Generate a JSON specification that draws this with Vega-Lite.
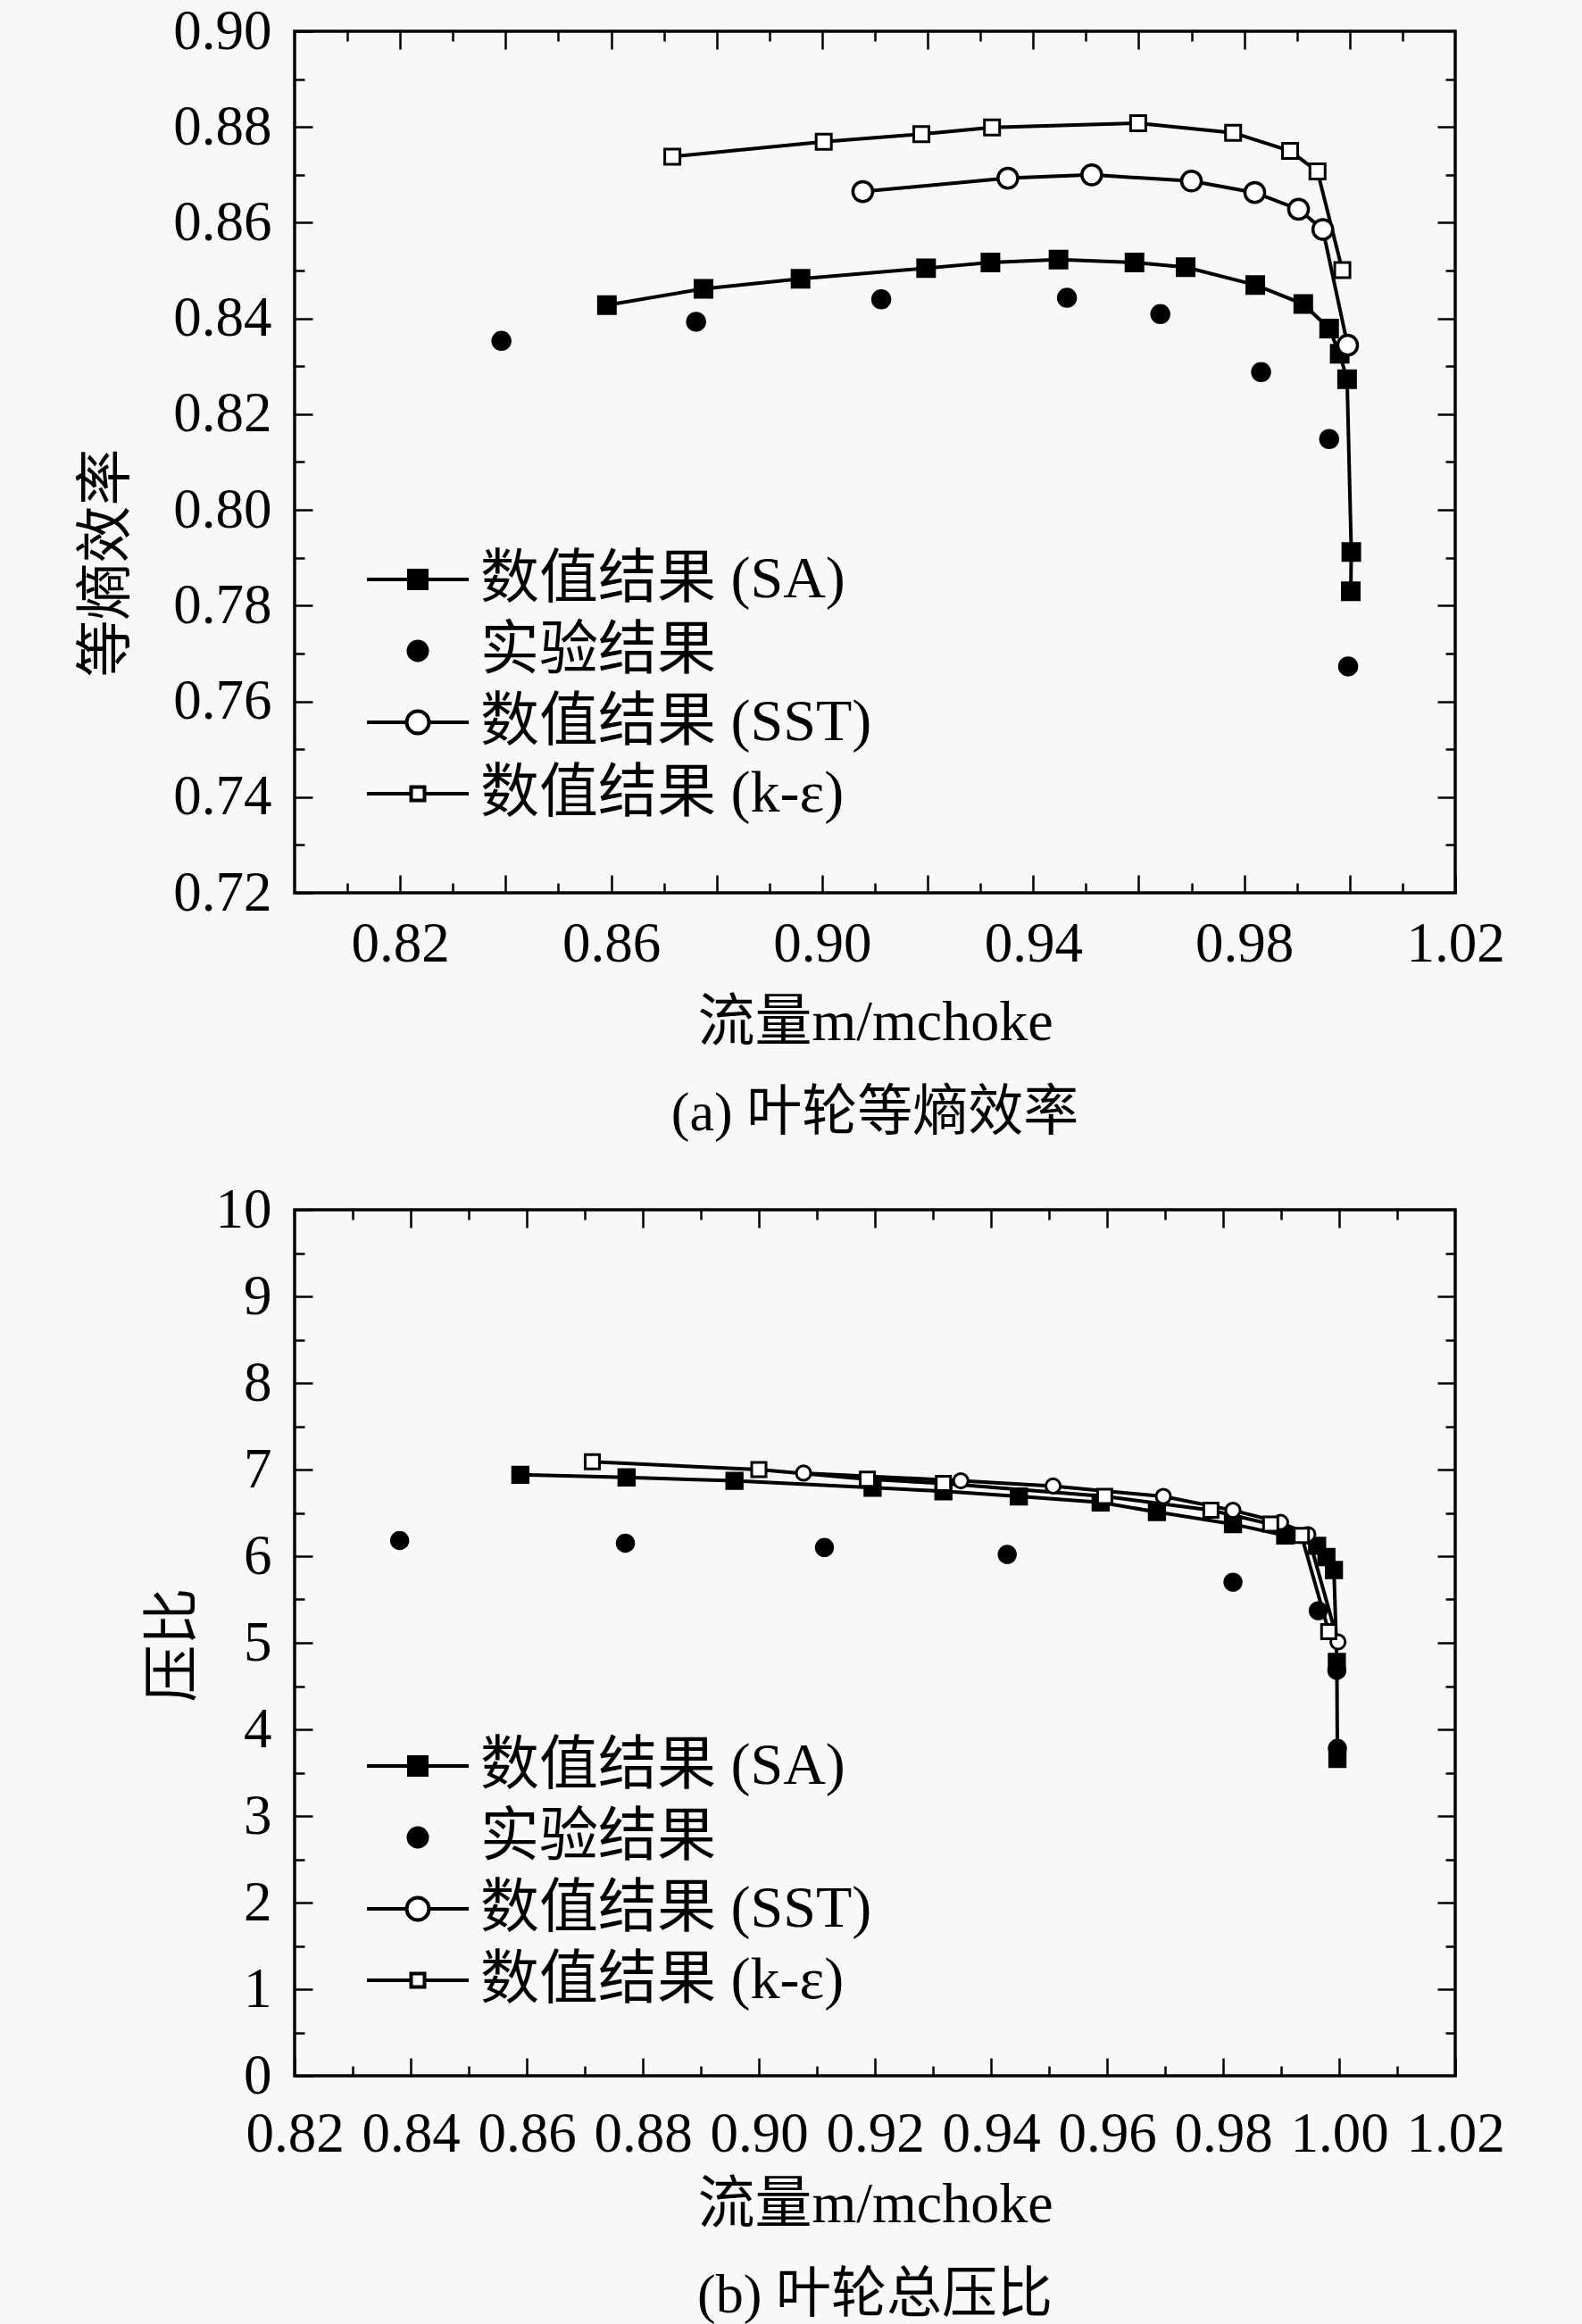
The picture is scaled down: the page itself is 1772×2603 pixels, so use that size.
{
  "$schema": "https://vega.github.io/schema/vega-lite/v6.json",
  "background": "#f8f8f8",
  "padding": {"left": 85, "top": 2, "right": 85, "bottom": 10},
  "config": {
    "font": "Liberation Serif, Noto Sans CJK SC, serif",
    "view": {"stroke": "black", "strokeWidth": 3.5},
    "axis": {
      "grid": false,
      "domain": false,
      "labelFontSize": 63,
      "labelColor": "black",
      "labelOverlap": false,
      "labelFlush": false,
      "labelPadding": 46,
      "tickColor": "black",
      "tickWidth": 2.5,
      "titleFontSize": 64,
      "titleFontWeight": "normal",
      "titleColor": "black"
    },
    "legend": {
      "orient": "none",
      "title": null,
      "padding": 0,
      "labelFontSize": 66,
      "labelColor": "black",
      "labelLimit": 0,
      "symbolSize": 400,
      "symbolStrokeWidth": 4,
      "symbolStrokeColor": "black",
      "symbolOpacity": 1,
      "symbolOffset": 56,
      "labelOffset": 37,
      "rowPadding": 14
    },
    "title": {"fontSize": 62, "fontWeight": "normal", "color": "black"}
  },
  "datasets": {
    "eff": [
      {"series": "数值结果 (SA)", "i": 1, "x": 0.8592, "y": 0.8428},
      {"series": "数值结果 (SA)", "i": 2, "x": 0.8775, "y": 0.8462},
      {"series": "数值结果 (SA)", "i": 3, "x": 0.8959, "y": 0.8483},
      {"series": "数值结果 (SA)", "i": 4, "x": 0.9197, "y": 0.8505},
      {"series": "数值结果 (SA)", "i": 5, "x": 0.9319, "y": 0.8517},
      {"series": "数值结果 (SA)", "i": 6, "x": 0.9448, "y": 0.8523},
      {"series": "数值结果 (SA)", "i": 7, "x": 0.9592, "y": 0.8517},
      {"series": "数值结果 (SA)", "i": 8, "x": 0.9689, "y": 0.8507},
      {"series": "数值结果 (SA)", "i": 9, "x": 0.9821, "y": 0.847},
      {"series": "数值结果 (SA)", "i": 10, "x": 0.9912, "y": 0.843},
      {"series": "数值结果 (SA)", "i": 11, "x": 0.9961, "y": 0.8379},
      {"series": "数值结果 (SA)", "i": 12, "x": 0.9981, "y": 0.8326},
      {"series": "数值结果 (SA)", "i": 13, "x": 0.9995, "y": 0.8273},
      {"series": "数值结果 (SA)", "i": 14, "x": 1.0003, "y": 0.7912},
      {"series": "数值结果 (SA)", "i": 15, "x": 1.0002, "y": 0.783},
      {"series": "实验结果", "i": 1, "x": 0.8392, "y": 0.8353},
      {"series": "实验结果", "i": 2, "x": 0.8761, "y": 0.8393},
      {"series": "实验结果", "i": 3, "x": 0.9112, "y": 0.844},
      {"series": "实验结果", "i": 4, "x": 0.9464, "y": 0.8443},
      {"series": "实验结果", "i": 5, "x": 0.9641, "y": 0.8409},
      {"series": "实验结果", "i": 6, "x": 0.9832, "y": 0.8288},
      {"series": "实验结果", "i": 7, "x": 0.9961, "y": 0.8148},
      {"series": "实验结果", "i": 8, "x": 0.9997, "y": 0.7673},
      {"series": "数值结果 (SST)", "i": 1, "x": 0.9077, "y": 0.8665},
      {"series": "数值结果 (SST)", "i": 2, "x": 0.9352, "y": 0.8693},
      {"series": "数值结果 (SST)", "i": 3, "x": 0.9511, "y": 0.87},
      {"series": "数值结果 (SST)", "i": 4, "x": 0.97, "y": 0.8687},
      {"series": "数值结果 (SST)", "i": 5, "x": 0.982, "y": 0.8663},
      {"series": "数值结果 (SST)", "i": 6, "x": 0.9903, "y": 0.8628},
      {"series": "数值结果 (SST)", "i": 7, "x": 0.9949, "y": 0.8586},
      {"series": "数值结果 (SST)", "i": 8, "x": 0.9996, "y": 0.8344},
      {"series": "数值结果 (k-ε)", "i": 1, "x": 0.8716, "y": 0.8738},
      {"series": "数值结果 (k-ε)", "i": 2, "x": 0.9003, "y": 0.8769},
      {"series": "数值结果 (k-ε)", "i": 3, "x": 0.9188, "y": 0.8785},
      {"series": "数值结果 (k-ε)", "i": 4, "x": 0.9322, "y": 0.8799},
      {"series": "数值结果 (k-ε)", "i": 5, "x": 0.9599, "y": 0.8808},
      {"series": "数值结果 (k-ε)", "i": 6, "x": 0.9779, "y": 0.8788},
      {"series": "数值结果 (k-ε)", "i": 7, "x": 0.9887, "y": 0.875},
      {"series": "数值结果 (k-ε)", "i": 8, "x": 0.9939, "y": 0.8707},
      {"series": "数值结果 (k-ε)", "i": 9, "x": 0.9986, "y": 0.8501}
    ],
    "pr": [
      {"series": "数值结果 (SA)", "i": 1, "x": 0.8589, "y": 6.94},
      {"series": "数值结果 (SA)", "i": 2, "x": 0.8772, "y": 6.91},
      {"series": "数值结果 (SA)", "i": 3, "x": 0.8958, "y": 6.87},
      {"series": "数值结果 (SA)", "i": 4, "x": 0.9196, "y": 6.79},
      {"series": "数值结果 (SA)", "i": 5, "x": 0.9318, "y": 6.75},
      {"series": "数值结果 (SA)", "i": 6, "x": 0.9448, "y": 6.69},
      {"series": "数值结果 (SA)", "i": 7, "x": 0.9589, "y": 6.62},
      {"series": "数值结果 (SA)", "i": 8, "x": 0.9686, "y": 6.51},
      {"series": "数值结果 (SA)", "i": 9, "x": 0.9817, "y": 6.37},
      {"series": "数值结果 (SA)", "i": 10, "x": 0.9907, "y": 6.24},
      {"series": "数值结果 (SA)", "i": 11, "x": 0.9962, "y": 6.12},
      {"series": "数值结果 (SA)", "i": 12, "x": 0.9978, "y": 5.99},
      {"series": "数值结果 (SA)", "i": 13, "x": 0.9991, "y": 5.84},
      {"series": "数值结果 (SA)", "i": 14, "x": 0.9996, "y": 4.78},
      {"series": "数值结果 (SA)", "i": 15, "x": 0.9997, "y": 3.66},
      {"series": "实验结果", "i": 1, "x": 0.8381, "y": 6.18},
      {"series": "实验结果", "i": 2, "x": 0.877, "y": 6.15},
      {"series": "实验结果", "i": 3, "x": 0.9113, "y": 6.1},
      {"series": "实验结果", "i": 4, "x": 0.9428, "y": 6.02},
      {"series": "实验结果", "i": 5, "x": 0.9817, "y": 5.7},
      {"series": "实验结果", "i": 6, "x": 0.9964, "y": 5.37},
      {"series": "实验结果", "i": 7, "x": 0.9996, "y": 4.68},
      {"series": "实验结果", "i": 8, "x": 0.9997, "y": 3.78},
      {"series": "数值结果 (SST)", "i": 1, "x": 0.9077, "y": 6.96},
      {"series": "数值结果 (SST)", "i": 2, "x": 0.9348, "y": 6.87},
      {"series": "数值结果 (SST)", "i": 3, "x": 0.9507, "y": 6.81},
      {"series": "数值结果 (SST)", "i": 4, "x": 0.9697, "y": 6.69},
      {"series": "数值结果 (SST)", "i": 5, "x": 0.9817, "y": 6.53},
      {"series": "数值结果 (SST)", "i": 6, "x": 0.9899, "y": 6.39},
      {"series": "数值结果 (SST)", "i": 7, "x": 0.9946, "y": 6.25},
      {"series": "数值结果 (SST)", "i": 8, "x": 0.9998, "y": 5.01},
      {"series": "数值结果 (k-ε)", "i": 1, "x": 0.8713, "y": 7.09},
      {"series": "数值结果 (k-ε)", "i": 2, "x": 0.9, "y": 7.0},
      {"series": "数值结果 (k-ε)", "i": 3, "x": 0.9187, "y": 6.89},
      {"series": "数值结果 (k-ε)", "i": 4, "x": 0.9318, "y": 6.84},
      {"series": "数值结果 (k-ε)", "i": 5, "x": 0.9596, "y": 6.69},
      {"series": "数值结果 (k-ε)", "i": 6, "x": 0.9779, "y": 6.53},
      {"series": "数值结果 (k-ε)", "i": 7, "x": 0.9882, "y": 6.37},
      {"series": "数值结果 (k-ε)", "i": 8, "x": 0.9935, "y": 6.24},
      {"series": "数值结果 (k-ε)", "i": 9, "x": 0.9982, "y": 5.13}
    ]
  },
  "bounds": "flush",
  "spacing": 355,
  "resolve": {"scale": {"shape": "independent", "fill": "independent"}, "legend": {"shape": "independent", "fill": "independent"}},
  "vconcat": [
    {
      "width": 1300,
      "height": 965,
      "data": {"name": "eff"},
      "title": {"text": "(a) 叶轮等熵效率", "orient": "bottom", "offset": 40},
      "encoding": {
        "x": {"field": "x", "type": "quantitative", "scale": {"domain": [0.8, 1.02], "nice": false, "zero": false}},
        "y": {"field": "y", "type": "quantitative", "scale": {"domain": [0.72, 0.9], "nice": false, "zero": false}}
      },
      "layer": [
        {
          "transform": [{"filter": "datum.series != '实验结果'"}],
          "mark": {"type": "line", "color": "black", "strokeWidth": 4},
          "encoding": {
            "x": {
              "field": "x", "type": "quantitative",
              "axis": {
                "orient": "bottom",
                "values": [0.81, 0.82, 0.83, 0.84, 0.85, 0.86, 0.87, 0.88, 0.89, 0.9, 0.91, 0.92, 0.93, 0.94, 0.95, 0.96, 0.97, 0.98, 0.99, 1.0, 1.01, 1.02],
                "labelExpr": "round(datum.value * 100) % 4 == 2 ? format(datum.value, '.2f') : ''",
                "tickSize": {"condition": {"test": "round(datum.value * 100) % 2 == 0", "value": -20}, "value": -11},
                "title": "流量m/mchoke",
                "titleBaseline": "middle",
                "titleY": 145
              }
            },
            "y": {
              "field": "y", "type": "quantitative",
              "axis": {
                "orient": "left",
                "values": [0.72, 0.73, 0.74, 0.75, 0.76, 0.77, 0.78, 0.79, 0.8, 0.81, 0.82, 0.83, 0.84, 0.85, 0.86, 0.87, 0.88, 0.89, 0.9],
                "labelExpr": "round(datum.value * 100) % 2 == 0 ? format(datum.value, '.2f') : ''",
                "tickSize": {"condition": {"test": "round(datum.value * 100) % 2 == 0", "value": -20}, "value": -11},
                "title": "等熵效率",
                "titleBaseline": "middle",
                "titleX": -211,
                "titleY": 595
              }
            },
            "detail": {"field": "series"},
            "order": {"field": "i"}
          }
        },
        {
          "transform": [{"filter": "datum.series == '数值结果 (SA)'"}],
          "mark": {"type": "point", "shape": "square", "filled": true, "fill": "black", "stroke": "black", "strokeWidth": 3, "size": 360, "opacity": 1},
          "encoding": {"x": {"field": "x", "type": "quantitative", "axis": null}, "y": {"field": "y", "type": "quantitative", "axis": null}}
        },
        {
          "transform": [{"filter": "datum.series == '实验结果'"}],
          "mark": {"type": "point", "shape": "circle", "filled": true, "fill": "black", "stroke": "black", "strokeWidth": 3, "size": 380, "opacity": 1},
          "encoding": {"x": {"field": "x", "type": "quantitative", "axis": null}, "y": {"field": "y", "type": "quantitative", "axis": null}}
        },
        {
          "transform": [{"filter": "datum.series == '数值结果 (SST)'"}],
          "mark": {"type": "point", "shape": "circle", "filled": true, "fill": "white", "stroke": "black", "strokeWidth": 3.5, "size": 490, "opacity": 1},
          "encoding": {"x": {"field": "x", "type": "quantitative", "axis": null}, "y": {"field": "y", "type": "quantitative", "axis": null}}
        },
        {
          "transform": [{"filter": "datum.series == '数值结果 (k-ε)'"}],
          "mark": {"type": "point", "shape": "square", "filled": true, "fill": "white", "stroke": "black", "strokeWidth": 3, "size": 289, "opacity": 1},
          "encoding": {"x": {"field": "x", "type": "quantitative", "axis": null}, "y": {"field": "y", "type": "quantitative", "axis": null}}
        },
        {
          "transform": [{"filter": "false"}],
          "mark": {"type": "point", "filled": true, "stroke": "black", "strokeWidth": 4, "size": 400, "opacity": 1},
          "encoding": {
            "x": {
              "field": "x", "type": "quantitative",
              "axis": {
                "orient": "top", "labels": false, "title": null,
                "values": [0.81, 0.82, 0.83, 0.84, 0.85, 0.86, 0.87, 0.88, 0.89, 0.9, 0.91, 0.92, 0.93, 0.94, 0.95, 0.96, 0.97, 0.98, 0.99, 1.0, 1.01],
                "tickSize": {"condition": {"test": "round(datum.value * 100) % 2 == 0", "value": -20}, "value": -11}
              }
            },
            "y": {
              "field": "y", "type": "quantitative",
              "axis": {
                "orient": "right", "labels": false, "title": null,
                "values": [0.73, 0.74, 0.75, 0.76, 0.77, 0.78, 0.79, 0.8, 0.81, 0.82, 0.83, 0.84, 0.85, 0.86, 0.87, 0.88, 0.89],
                "tickSize": {"condition": {"test": "round(datum.value * 100) % 2 == 0", "value": -20}, "value": -11}
              }
            },
            "shape": {"field": "series", "type": "nominal",
              "scale": {"domain": ["数值结果 (SA)", "实验结果", "数值结果 (SST)", "数值结果 (k-ε)"],
                "range": ["M-5.7,0H5.7M-1,-1H1V1H-1Z", "M-1.05,0A1.05,1.05,0,1,1,1.05,0A1.05,1.05,0,1,1,-1.05,0Z", "M-5.7,0H-1.25M1.25,0H5.7M-1.25,0A1.25,1.25,0,1,1,1.25,0A1.25,1.25,0,1,1,-1.25,0Z", "M-5.7,0H-0.75M0.75,0H5.7M-0.75,-0.75H0.75V0.75H-0.75Z"]},
              "legend": {"legendX": 49, "legendY": 581, "encoding": {"symbols": {"stroke": {"value": "black"}, "strokeWidth": {"value": 4}}}}},
            "fill": {"field": "series", "type": "nominal",
              "scale": {"domain": ["数值结果 (SA)", "实验结果", "数值结果 (SST)", "数值结果 (k-ε)"], "range": ["black", "black", "white", "white"]},
              "legend": {"legendX": 49, "legendY": 581, "encoding": {"symbols": {"stroke": {"value": "black"}, "strokeWidth": {"value": 4}}}}}
          }
        }
      ]
    },
    {
      "width": 1300,
      "height": 970,
      "data": {"name": "pr"},
      "title": {"text": "(b) 叶轮总压比", "orient": "bottom", "offset": 40},
      "encoding": {
        "x": {"field": "x", "type": "quantitative", "scale": {"domain": [0.82, 1.02], "nice": false, "zero": false}},
        "y": {"field": "y", "type": "quantitative", "scale": {"domain": [0, 10], "nice": false, "zero": false}}
      },
      "layer": [
        {
          "transform": [{"filter": "datum.series != '实验结果'"}],
          "mark": {"type": "line", "color": "black", "strokeWidth": 4},
          "encoding": {
            "x": {
              "field": "x", "type": "quantitative",
              "axis": {
                "orient": "bottom",
                "values": [0.82, 0.83, 0.84, 0.85, 0.86, 0.87, 0.88, 0.89, 0.9, 0.91, 0.92, 0.93, 0.94, 0.95, 0.96, 0.97, 0.98, 0.99, 1.0, 1.01, 1.02],
                "labelExpr": "round(datum.value * 100) % 2 == 0 ? format(datum.value, '.2f') : ''",
                "tickSize": {"condition": {"test": "round(datum.value * 100) % 2 == 0", "value": -20}, "value": -11},
                "labelPadding": 54,
                "title": "流量m/mchoke",
                "titleBaseline": "middle",
                "titleY": 144
              }
            },
            "y": {
              "field": "y", "type": "quantitative",
              "axis": {
                "orient": "left",
                "values": [0, 0.5, 1, 1.5, 2, 2.5, 3, 3.5, 4, 4.5, 5, 5.5, 6, 6.5, 7, 7.5, 8, 8.5, 9, 9.5, 10],
                "labelExpr": "datum.value % 1 == 0 ? format(datum.value, 'd') : ''",
                "tickSize": {"condition": {"test": "datum.value % 1 == 0", "value": -20}, "value": -11},
                "title": "压比",
                "titleBaseline": "middle",
                "titleX": -136,
                "titleY": 487
              }
            },
            "detail": {"field": "series"},
            "order": {"field": "i"}
          }
        },
        {
          "transform": [{"filter": "datum.series == '数值结果 (SA)'"}],
          "mark": {"type": "point", "shape": "square", "filled": true, "fill": "black", "stroke": "black", "strokeWidth": 3, "size": 300, "opacity": 1},
          "encoding": {"x": {"field": "x", "type": "quantitative", "axis": null}, "y": {"field": "y", "type": "quantitative", "axis": null}}
        },
        {
          "transform": [{"filter": "datum.series == '实验结果'"}],
          "mark": {"type": "point", "shape": "circle", "filled": true, "fill": "black", "stroke": "black", "strokeWidth": 3, "size": 340, "opacity": 1},
          "encoding": {"x": {"field": "x", "type": "quantitative", "axis": null}, "y": {"field": "y", "type": "quantitative", "axis": null}}
        },
        {
          "transform": [{"filter": "datum.series == '数值结果 (SST)'"}],
          "mark": {"type": "point", "shape": "circle", "filled": true, "fill": "white", "stroke": "black", "strokeWidth": 3, "size": 260, "opacity": 1},
          "encoding": {"x": {"field": "x", "type": "quantitative", "axis": null}, "y": {"field": "y", "type": "quantitative", "axis": null}}
        },
        {
          "transform": [{"filter": "datum.series == '数值结果 (k-ε)'"}],
          "mark": {"type": "point", "shape": "square", "filled": true, "fill": "white", "stroke": "black", "strokeWidth": 3, "size": 256, "opacity": 1},
          "encoding": {"x": {"field": "x", "type": "quantitative", "axis": null}, "y": {"field": "y", "type": "quantitative", "axis": null}}
        },
        {
          "transform": [{"filter": "false"}],
          "mark": {"type": "point", "filled": true, "stroke": "black", "strokeWidth": 4, "size": 400, "opacity": 1},
          "encoding": {
            "x": {
              "field": "x", "type": "quantitative",
              "axis": {
                "orient": "top", "labels": false, "title": null,
                "values": [0.83, 0.84, 0.85, 0.86, 0.87, 0.88, 0.89, 0.9, 0.91, 0.92, 0.93, 0.94, 0.95, 0.96, 0.97, 0.98, 0.99, 1.0, 1.01],
                "tickSize": {"condition": {"test": "round(datum.value * 100) % 2 == 0", "value": -20}, "value": -11}
              }
            },
            "y": {
              "field": "y", "type": "quantitative",
              "axis": {
                "orient": "right", "labels": false, "title": null,
                "values": [0.5, 1, 1.5, 2, 2.5, 3, 3.5, 4, 4.5, 5, 5.5, 6, 6.5, 7, 7.5, 8, 8.5, 9, 9.5],
                "tickSize": {"condition": {"test": "datum.value % 1 == 0", "value": -20}, "value": -11}
              }
            },
            "shape": {"field": "series", "type": "nominal",
              "scale": {"domain": ["数值结果 (SA)", "实验结果", "数值结果 (SST)", "数值结果 (k-ε)"],
                "range": ["M-5.7,0H5.7M-1,-1H1V1H-1Z", "M-1.05,0A1.05,1.05,0,1,1,1.05,0A1.05,1.05,0,1,1,-1.05,0Z", "M-5.7,0H-1.25M1.25,0H5.7M-1.25,0A1.25,1.25,0,1,1,1.25,0A1.25,1.25,0,1,1,-1.25,0Z", "M-5.7,0H-0.75M0.75,0H5.7M-0.75,-0.75H0.75V0.75H-0.75Z"]},
              "legend": {"legendX": 49, "legendY": 590, "encoding": {"symbols": {"stroke": {"value": "black"}, "strokeWidth": {"value": 4}}}}},
            "fill": {"field": "series", "type": "nominal",
              "scale": {"domain": ["数值结果 (SA)", "实验结果", "数值结果 (SST)", "数值结果 (k-ε)"], "range": ["black", "black", "white", "white"]},
              "legend": {"legendX": 49, "legendY": 590, "encoding": {"symbols": {"stroke": {"value": "black"}, "strokeWidth": {"value": 4}}}}}
          }
        }
      ]
    }
  ]
}
